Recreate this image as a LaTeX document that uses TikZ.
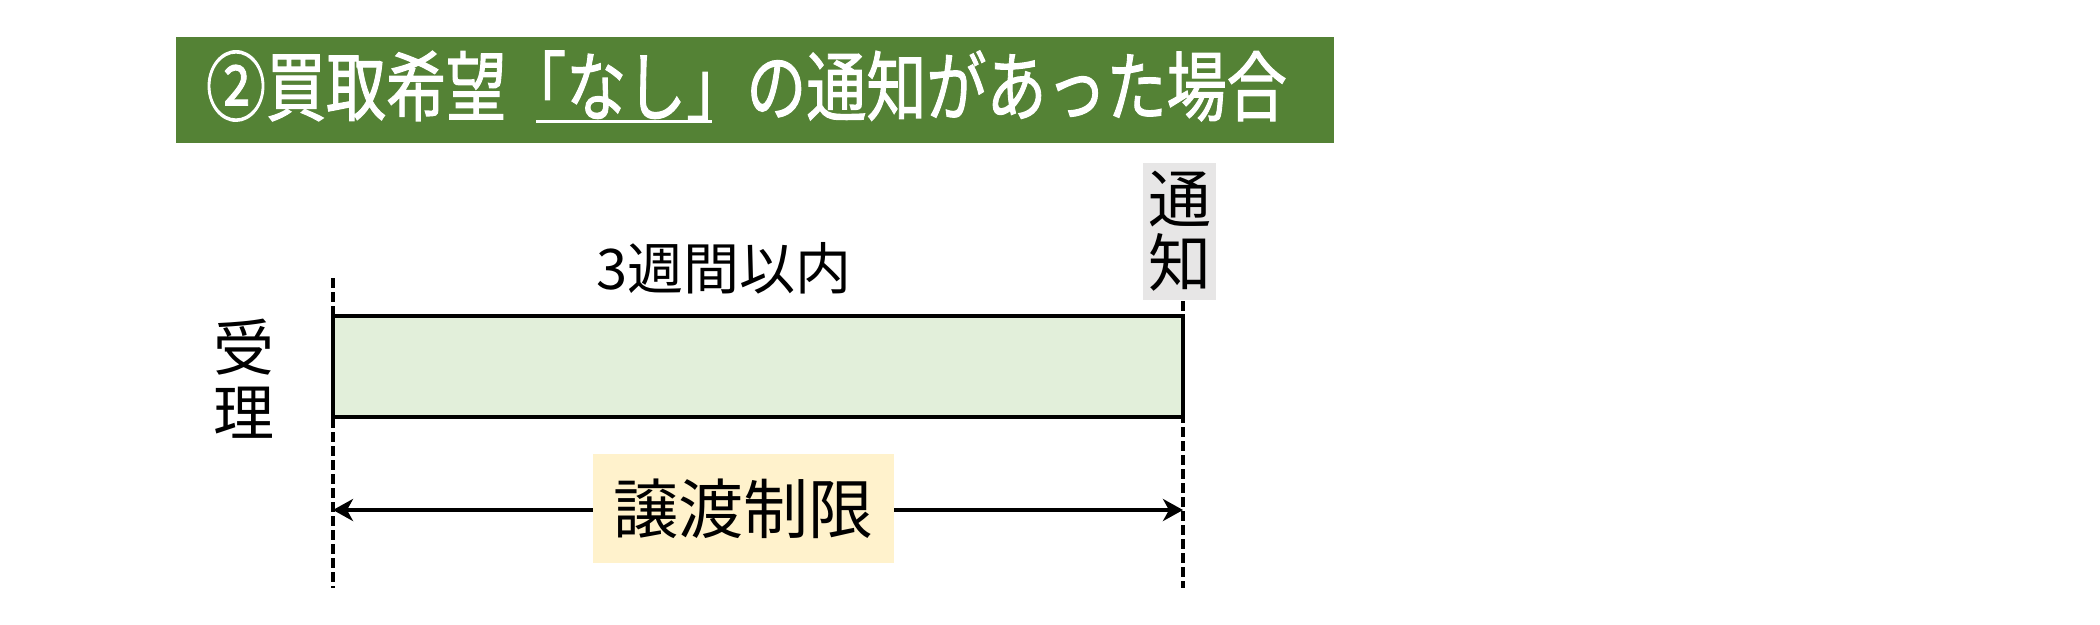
\documentclass[tikz,border=0pt]{standalone}
\usepackage{fontspec}
\setmainfont{Noto Sans CJK JP}
\newfontfamily\titlefont[FakeBold=1.5]{Noto Sans CJK JP}
\usetikzlibrary{arrows.meta}
\definecolor{bannergreen}{HTML}{548235}
\definecolor{periodfill}{HTML}{E2EFDA}
\definecolor{limitfill}{HTML}{FFF2CC}
\definecolor{notefill}{HTML}{E7E6E6}
\begin{document}
\begin{tikzpicture}[x=1pt,y=-1pt,
  dashline/.style={line width=3.5pt, dash pattern=on 10pt off 4pt},
  plain/.style={inner sep=0pt, outer sep=0pt},
  dimtip/.tip={Stealth[length=20pt,width=22pt,inset=6pt]}]
\useasboundingbox (0,0) rectangle (2100,624);
% banner
\node[plain, fill=bannergreen, anchor=north west, minimum width=1158pt, minimum height=106pt] (banner) at (176,37) {};
\node[plain, anchor=west, text=white, font=\titlefont\fontsize{76}{76}\selectfont] (title) at (206,86) {\scalebox{0.79}[1]{②買取希望「なし」の通知があった場合}};
\draw[white, line width=3pt] (536,121) -- (712,121);
% period box
\node[plain, draw, line width=4pt, fill=periodfill, anchor=north west, minimum width=850pt, minimum height=101pt] (period) at (333,316) {};
% dashed lines
\coordinate (Ltop) at (333,278);
\coordinate (Lbot) at (333,588);
\coordinate (Rtop) at (1183,301);
\coordinate (Rbot) at (1183,588);
\draw[dashline] (Ltop) -- (Lbot);
\draw[dashline] (Rtop) -- (Rbot);
% labels
\node[plain, font=\fontsize{56}{56}\selectfont] (weeks) at (724,268) {3週間以内};
\node[plain, align=center, font=\fontsize{61}{65}\selectfont] (accept) at (244,379) {受\\理};
\node[plain, fill=notefill, minimum width=73pt, minimum height=137pt, align=center, font=\fontsize{63}{64}\selectfont] (notice) at (1179.5,231.5) {通\\知};
% arrow
\coordinate (Lmid) at (333,510);
\coordinate (Rmid) at (1183,510);
\draw[line width=3.5pt, {dimtip}-{dimtip}] (Lmid) -- (Rmid);
\node[plain, fill=limitfill, minimum width=301pt, minimum height=109pt, font=\fontsize{65}{65}\selectfont] (limit) at (743.5,508.5) {譲渡制限};
\end{tikzpicture}
\end{document}
